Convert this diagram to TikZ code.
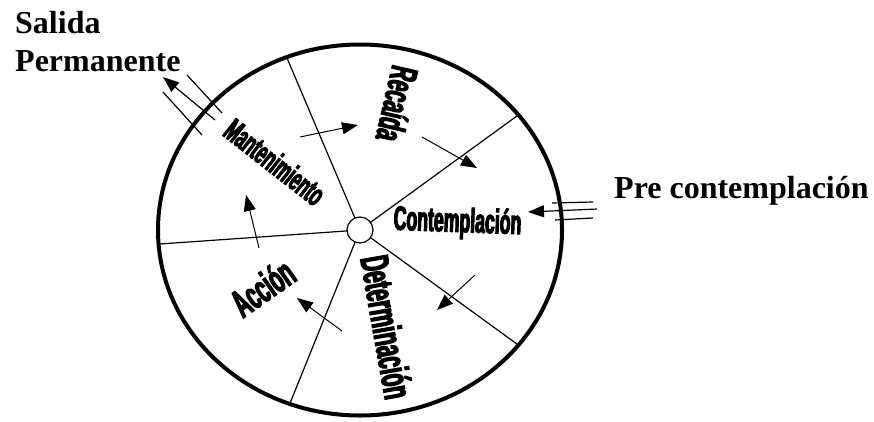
\documentclass[tikz,border=0pt]{standalone}
\usepackage{fontspec}
\setmainfont{Liberation Serif}
\newfontfamily\stagefont{Liberation Sans}[FakeStretch=0.52,FakeBold=3]
\usetikzlibrary{arrows.meta,shapes.geometric}
\tikzset{
  stage/.style={font=\stagefont\bfseries\fontsize{#1}{#1}\selectfont, inner sep=0pt},
  outside/.style={font=\bfseries\fontsize{32}{37.6}\selectfont, inner sep=0pt},
  cyclearrow/.style={-{Triangle[length=16pt,width=12pt]}, line width=1pt},
  spoke/.style={line width=1.2pt},
}
\begin{document}
\begin{tikzpicture}[x=1pt,y=-1pt]
  \useasboundingbox (0,0) rectangle (874,421);
  \node [ellipse,draw,line width=4pt,minimum width=404pt,minimum height=371pt,
         inner sep=0pt,outer sep=0pt] (rim) at (360,230) {};
  \node [circle,draw,line width=1.2pt,minimum size=26pt,inner sep=0pt,outer sep=0pt,
         fill=white] (hub) at (360,230) {};
  \foreach \a in {113,36,-36,-112,184}
    \draw [spoke] (hub.\a) -- (rim.\a);

  % stages
  \node [stage=38,rotate=-103] (recaida) at (397.5,104) {Recaída};
  \node [stage=34,rotate=-2] (contemplacion) at (457.5,223) {Contemplación};
  \node [stage=40,rotate=-80] (determinacion) at (387,327) {Determinación};
  \node [stage=39,rotate=35] (accion) at (262.5,287.5) {Acción};
  \node [stage=32,rotate=-38] (mantenimiento) at (275,162) {Mantenimiento};

  % cycle arrows
  \coordinate (mant-out) at (300,137);
  \coordinate (rec-in) at (358,125);
  \coordinate (rec-out) at (422,137);
  \coordinate (con-in) at (477,168);
  \coordinate (con-out) at (475,275);
  \coordinate (det-in) at (437,310);
  \coordinate (det-out) at (342,331);
  \coordinate (acc-in) at (297,298);
  \coordinate (acc-out) at (259,248);
  \coordinate (mant-in) at (246,195);
  \draw [cyclearrow] (mant-out) -- (rec-in);
  \draw [cyclearrow] (rec-out) -- (con-in);
  \draw [cyclearrow] (con-out) -- (det-in);
  \draw [cyclearrow] (det-out) -- (acc-in);
  \draw [cyclearrow] (acc-out) -- (mant-in);

  % way in and way out
  \node [outside,align=left,anchor=north west] (salida) at (15,11) {Salida\\Permanente};
  \node [outside,anchor=base west] (pre) at (614,198) {Pre contemplación};

  \coordinate (exit-a1) at (187,75);
  \coordinate (exit-a2) at (222,113);
  \coordinate (exit-b1) at (215,120);
  \coordinate (exit-b2) at (163,77);
  \coordinate (exit-c1) at (163,92);
  \coordinate (exit-c2) at (202,135);
  \draw [line width=1.2pt] (exit-a1) -- (exit-a2);
  \draw [cyclearrow,line width=1.2pt] (exit-b1) -- (exit-b2);
  \draw [line width=1.2pt] (exit-c1) -- (exit-c2);

  \coordinate (entry-a1) at (552,203);
  \coordinate (entry-a2) at (593,202);
  \coordinate (entry-b1) at (597,209);
  \coordinate (entry-b2) at (528,212);
  \coordinate (entry-c1) at (555,220);
  \coordinate (entry-c2) at (593,218);
  \draw [line width=1.2pt] (entry-a1) -- (entry-a2);
  \draw [cyclearrow,line width=1.2pt] (entry-b1) -- (entry-b2);
  \draw [line width=1.2pt] (entry-c1) -- (entry-c2);
\end{tikzpicture}
\end{document}
